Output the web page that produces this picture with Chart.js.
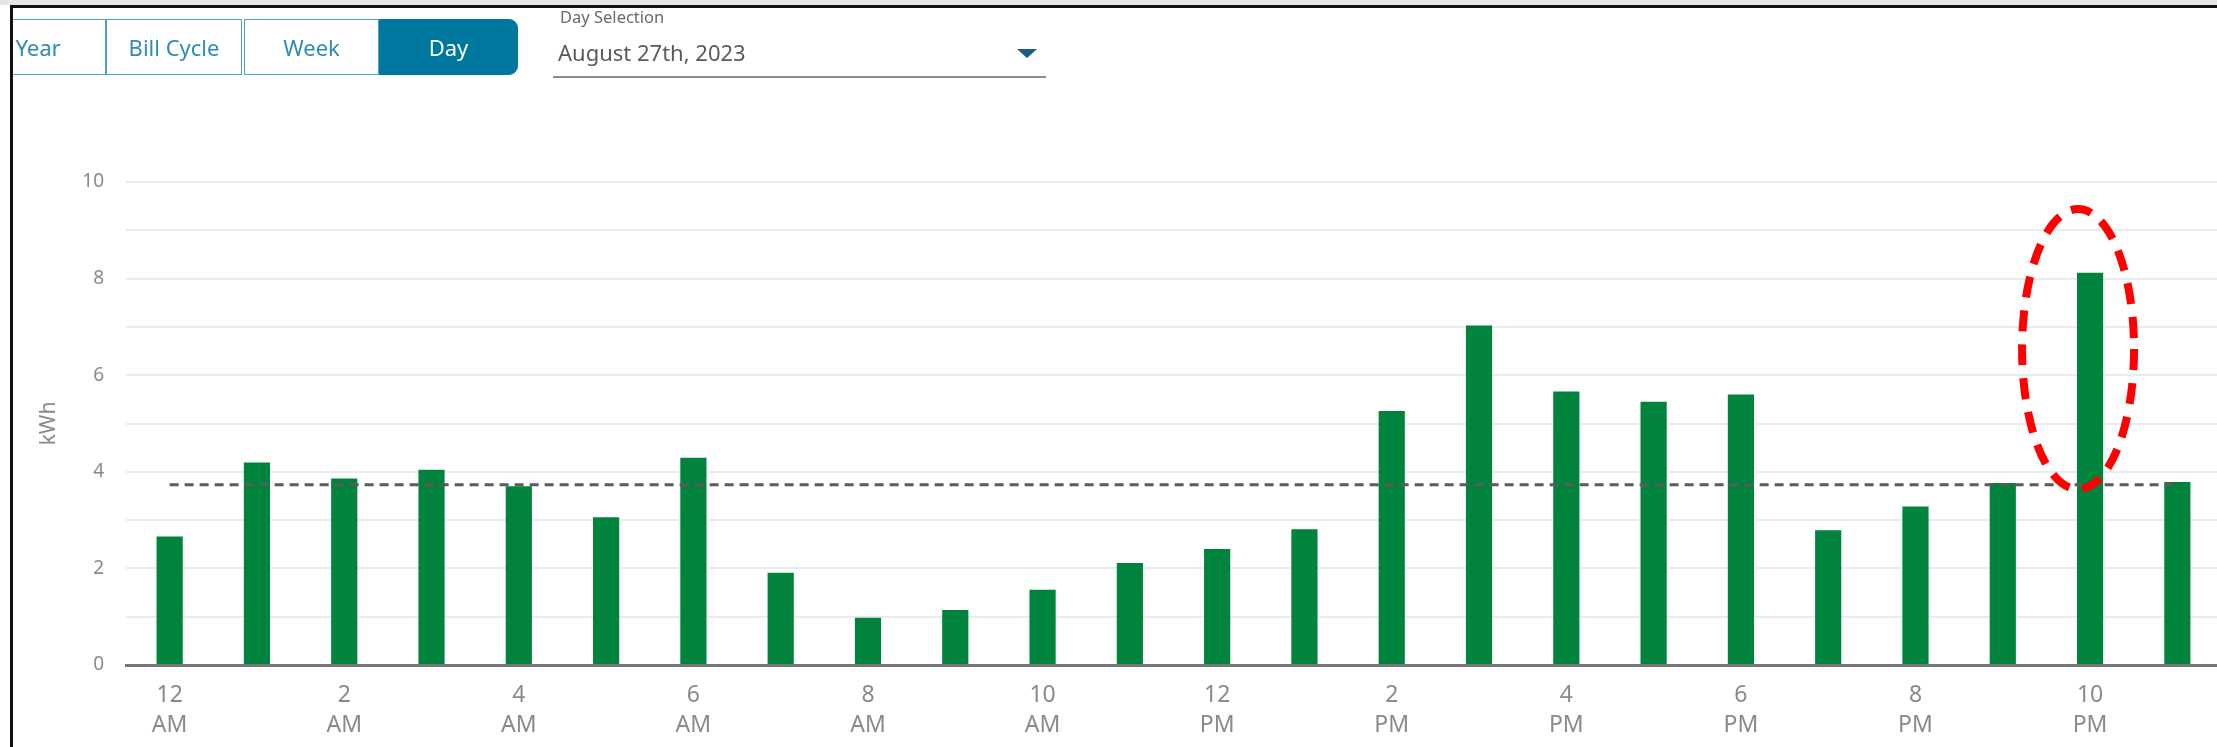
<!DOCTYPE html>
<html>
<head>
<meta charset="utf-8">
<script src="https://cdn.jsdelivr.net/npm/chart.js@4.4.0/dist/chart.umd.min.js"></script>
<style>
  html, body { margin: 0; padding: 0; background: #fff; overflow: hidden; width: 2217px; height: 747px; }
  body { position: relative; font-family: "Noto Sans", "Open Sans", sans-serif; }
  #topband { position: absolute; left: 0; top: 0; width: 2217px; height: 5px; background: #e3e6e9; }
  #frameTop { position: absolute; left: 10px; top: 5px; width: 2207px; height: 3px; background: #111; z-index: 5; }
  #frameLeft { position: absolute; left: 10px; top: 5px; width: 3px; height: 742px; background: #111; z-index: 5; }
  #chartBox { position: absolute; left: 0; top: 0; width: 2240px; height: 747px; }
  #tabs { position: absolute; left: 13px; top: 19px; width: 520px; height: 56px; overflow: hidden; }
  .tab { position: absolute; top: 0; height: 54px; border: 1px solid #4aa3c3; color: #2f8db3;
         font-size: 22px; line-height: 54px; text-align: center; box-sizing: content-box; background: #fff; }
  .tab.on { background: #00779e; color: #fff; border-color: #00779e; border-radius: 0 9px 9px 0; }
  #daySel { position: absolute; left: 553px; top: 0; width: 493px; height: 76px; border-bottom: 2px solid #8c8c8c; }
  #daySel .lbl { position: absolute; left: 7px; top: 5px; font-size: 16.5px; color: #6a6a6a; }
  #daySel .val { position: absolute; left: 5px; top: 37px; font-size: 22px; color: #5a5a5a; }
  #daySel .arrow { position: absolute; left: 464px; top: 49px; width: 0; height: 0;
                   border-left: 10px solid transparent; border-right: 10px solid transparent; border-top: 9px solid #1c5b82; }
</style>
</head>
<body>
<div id="topband"></div>
<div id="frameTop"></div>
<div id="frameLeft"></div>
<div id="chartBox"><canvas id="usageChart" width="2240" height="747"></canvas></div>
<div id="tabs">
  <div class="tab" style="left:-43px;width:134px;">Year</div>
  <div class="tab" style="left:93px;width:134px;">Bill Cycle</div>
  <div class="tab" style="left:231px;width:133px;">Week</div>
  <div class="tab on" style="left:366px;width:137px;">Day</div>
</div>
<div id="daySel">
  <div class="lbl">Day Selection</div>
  <div class="val">August 27th, 2023</div>
  <div class="arrow"></div>
</div>
<script>
// hourly usage for August 27th, 2023
const hours = ['12 AM', '1 AM', '2 AM', '3 AM', '4 AM', '5 AM', '6 AM', '7 AM', '8 AM', '9 AM', '10 AM', '11 AM',
               '12 PM', '1 PM', '2 PM', '3 PM', '4 PM', '5 PM', '6 PM', '7 PM', '8 PM', '9 PM', '10 PM', '11 PM'];
const usageKwh = [2.66, 4.19, 3.86, 4.04, 3.70, 3.06, 4.29, 1.91, 0.98, 1.14, 1.56, 2.11,
                  2.40, 2.81, 5.26, 7.03, 5.66, 5.45, 5.60, 2.79, 3.28, 3.77, 8.12, 3.79];
const averageKwh = 3.73;
const yTicks = [0, 2, 4, 6, 8, 10];

// red dashed ring around the 10 PM peak
const highlight = { index: 22, top: 9.44, bottom: 3.64 };

const ringPlugin = {
    id: 'ring',
    afterDatasetsDraw(chart) {
        const { ctx, scales: { x, y } } = chart;
        const cx = x.getPixelForValue(highlight.index) - 12;
        const yTop = y.getPixelForValue(highlight.top);
        const yBot = y.getPixelForValue(highlight.bottom);
        ctx.save();
        ctx.beginPath();
        ctx.ellipse(cx, (yTop + yBot) / 2, 56, (yBot - yTop) / 2, 0, 0, Math.PI * 2);
        ctx.setLineDash([21, 13]);
        ctx.lineWidth = 8;
        ctx.strokeStyle = '#ff0000';
        ctx.stroke();
        ctx.restore();
    }
};

const ctx = document.getElementById('usageChart').getContext('2d');
new Chart(ctx, {
    data: {
        labels: hours,
        datasets: [{
            type: 'line',
            data: hours.map(() => averageKwh),
            borderColor: '#5b5b5b',
            borderWidth: 3,
            borderDash: [9, 6],
            pointRadius: 0,
            fill: false,
            order: 0
        }, {
            type: 'bar',
            data: usageKwh,
            backgroundColor: '#00843d',
            borderWidth: 0,
            categoryPercentage: 1,
            barPercentage: 0.3,
            order: 1
        }]
    },
    options: {
        responsive: false,
        animation: false,
        layout: { padding: { top: 182, right: 19, left: 0, bottom: 0 } },
        plugins: { legend: { display: false }, tooltip: { enabled: false } },
        scales: {
            x: {
                grid: { display: false },
                border: { color: '#767676', width: 3 },
                ticks: {
                    autoSkip: false,
                    maxRotation: 0,
                    padding: 8,
                    color: '#8a8a8a',
                    font: { family: 'Noto Sans', size: 23, lineHeight: 1.3 },
                    callback: (v, i) => i % 2 === 0 ? hours[i].split(' ') : ''
                },
                afterFit(scale) { scale.height = 82; }
            },
            y: {
                min: 0,
                max: 10,
                ticks: {
                    stepSize: 1,
                    padding: 22,
                    color: '#8a8a8a',
                    font: { family: 'Noto Sans', size: 19 },
                    callback: v => yTicks.includes(v) ? v : ''
                },
                grid: { color: '#e8ecec', lineWidth: 2, drawTicks: false },
                border: { display: false },
                title: {
                    display: true,
                    text: 'kWh',
                    color: '#8a8a8a',
                    font: { family: 'Noto Sans', size: 21 },
                    padding: { top: 36 }
                },
                afterFit(scale) { scale.width = 126; }
            }
        }
    },
    plugins: [ringPlugin]
});
</script>
</body>
</html>
